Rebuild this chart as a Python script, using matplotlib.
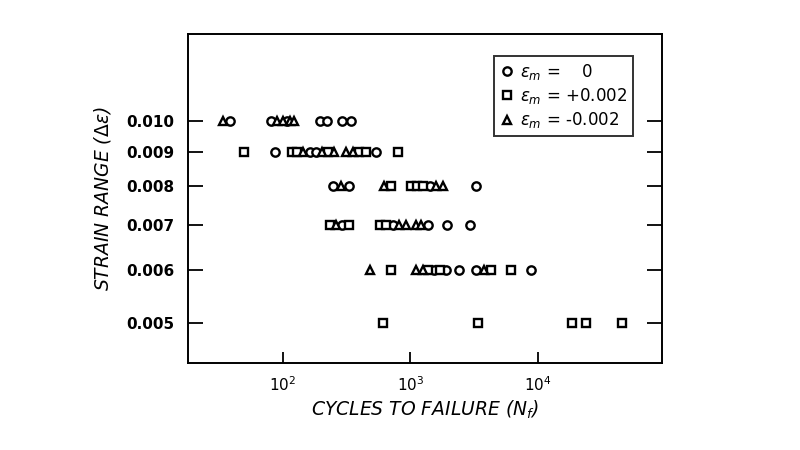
import matplotlib
matplotlib.use("Agg")
import matplotlib.pyplot as plt
from matplotlib.ticker import FixedLocator, FixedFormatter, NullLocator

# eps_m = 0 (circles)
circle_n = [38.8, 81, 108, 196, 223, 294, 346,
            87, 163, 182, 542,
            248, 331, 1415, 3277,
            294, 731, 1373, 1945, 2906,
            1520, 1887, 2397, 3277, 8820]
circle_s = [0.010] * 7 + [0.009] * 4 + [0.008] * 4 + [0.007] * 5 + [0.006] * 5

# eps_m = +0.002 (squares)
square_n = [50, 118, 130, 227, 398, 453, 803,
            711, 1018, 1126, 1254,
            237, 330, 583, 649,
            711, 1373, 1694, 4295, 6150,
            611, 3374, 18440, 23700, 45300]
square_s = [0.009] * 7 + [0.008] * 4 + [0.007] * 4 + [0.006] * 5 + [0.005] * 5

# eps_m = -0.002 (triangles)
tri_n = [34.4, 90, 100, 114, 122,
         145, 202, 252, 312, 354,
         289, 618, 1596, 1798,
         264, 815, 931, 1100, 1219,
         481, 1114, 1254, 3738]
tri_s = [0.010] * 5 + [0.009] * 5 + [0.008] * 4 + [0.007] * 5 + [0.006] * 4

y_ticks = [0.005, 0.006, 0.007, 0.008, 0.009, 0.010]
y_labels = ["0.005", "0.006", "0.007", "0.008", "0.009", "0.010"]
x_ticks = [1e2, 1e3, 1e4]
x_labels = [r"$10^2$", r"$10^3$", r"$10^4$"]

legend_labels = [r"$\epsilon_m$ =    0", r"$\epsilon_m$ = +0.002", r"$\epsilon_m$ = -0.002"]

fig = plt.figure(figsize=(8, 4.5), dpi=100)
ax = fig.add_axes([0.235, 0.193, 0.5925, 0.731])

mk = dict(linestyle="none", markerfacecolor="white", markeredgecolor="black",
          markeredgewidth=1.7, markersize=6)
ax.plot(circle_n, circle_s, marker="o", label=legend_labels[0], **mk)
ax.plot(square_n, square_s, marker="s", label=legend_labels[1], **mk)
ax.plot(tri_n, tri_s, marker="^", label=legend_labels[2], **mk)

ax.set_xscale("log")
ax.set_yscale("log")
ax.set_xlim(18.2, 93000)
ax.set_ylim(0.00436, 0.01346)

ax.xaxis.set_major_locator(FixedLocator(x_ticks))
ax.xaxis.set_major_formatter(FixedFormatter(x_labels))
ax.xaxis.set_minor_locator(NullLocator())
ax.yaxis.set_major_locator(FixedLocator(y_ticks))
ax.yaxis.set_major_formatter(FixedFormatter(y_labels))
ax.yaxis.set_minor_locator(NullLocator())

ax.tick_params(axis="y", direction="in", left=True, right=True, length=11,
               width=1.3, labelsize=11, pad=10)
ax.tick_params(axis="x", direction="in", bottom=True, top=False, length=8,
               width=1.3, labelsize=11, pad=9)
for lbl in ax.get_yticklabels():
    lbl.set_fontweight("semibold")
for sp in ax.spines.values():
    sp.set_linewidth(1.4)

ax.set_xlabel(r"CYCLES TO FAILURE ($N_f$)", fontsize=13.5, style="italic", labelpad=3)
ax.set_ylabel(r"STRAIN RANGE ($\Delta\epsilon$)", fontsize=13.5, style="italic", labelpad=9)

leg = ax.legend(loc="upper right", bbox_to_anchor=(0.939, 0.933), fancybox=False,
                frameon=True, fontsize=12, handletextpad=0.4, handlelength=0.8,
                borderpad=0.35, labelspacing=0.25, borderaxespad=0)
leg.get_frame().set_edgecolor("black")
leg.get_frame().set_linewidth(1.4)

fig.savefig("out.png", dpi=100)
